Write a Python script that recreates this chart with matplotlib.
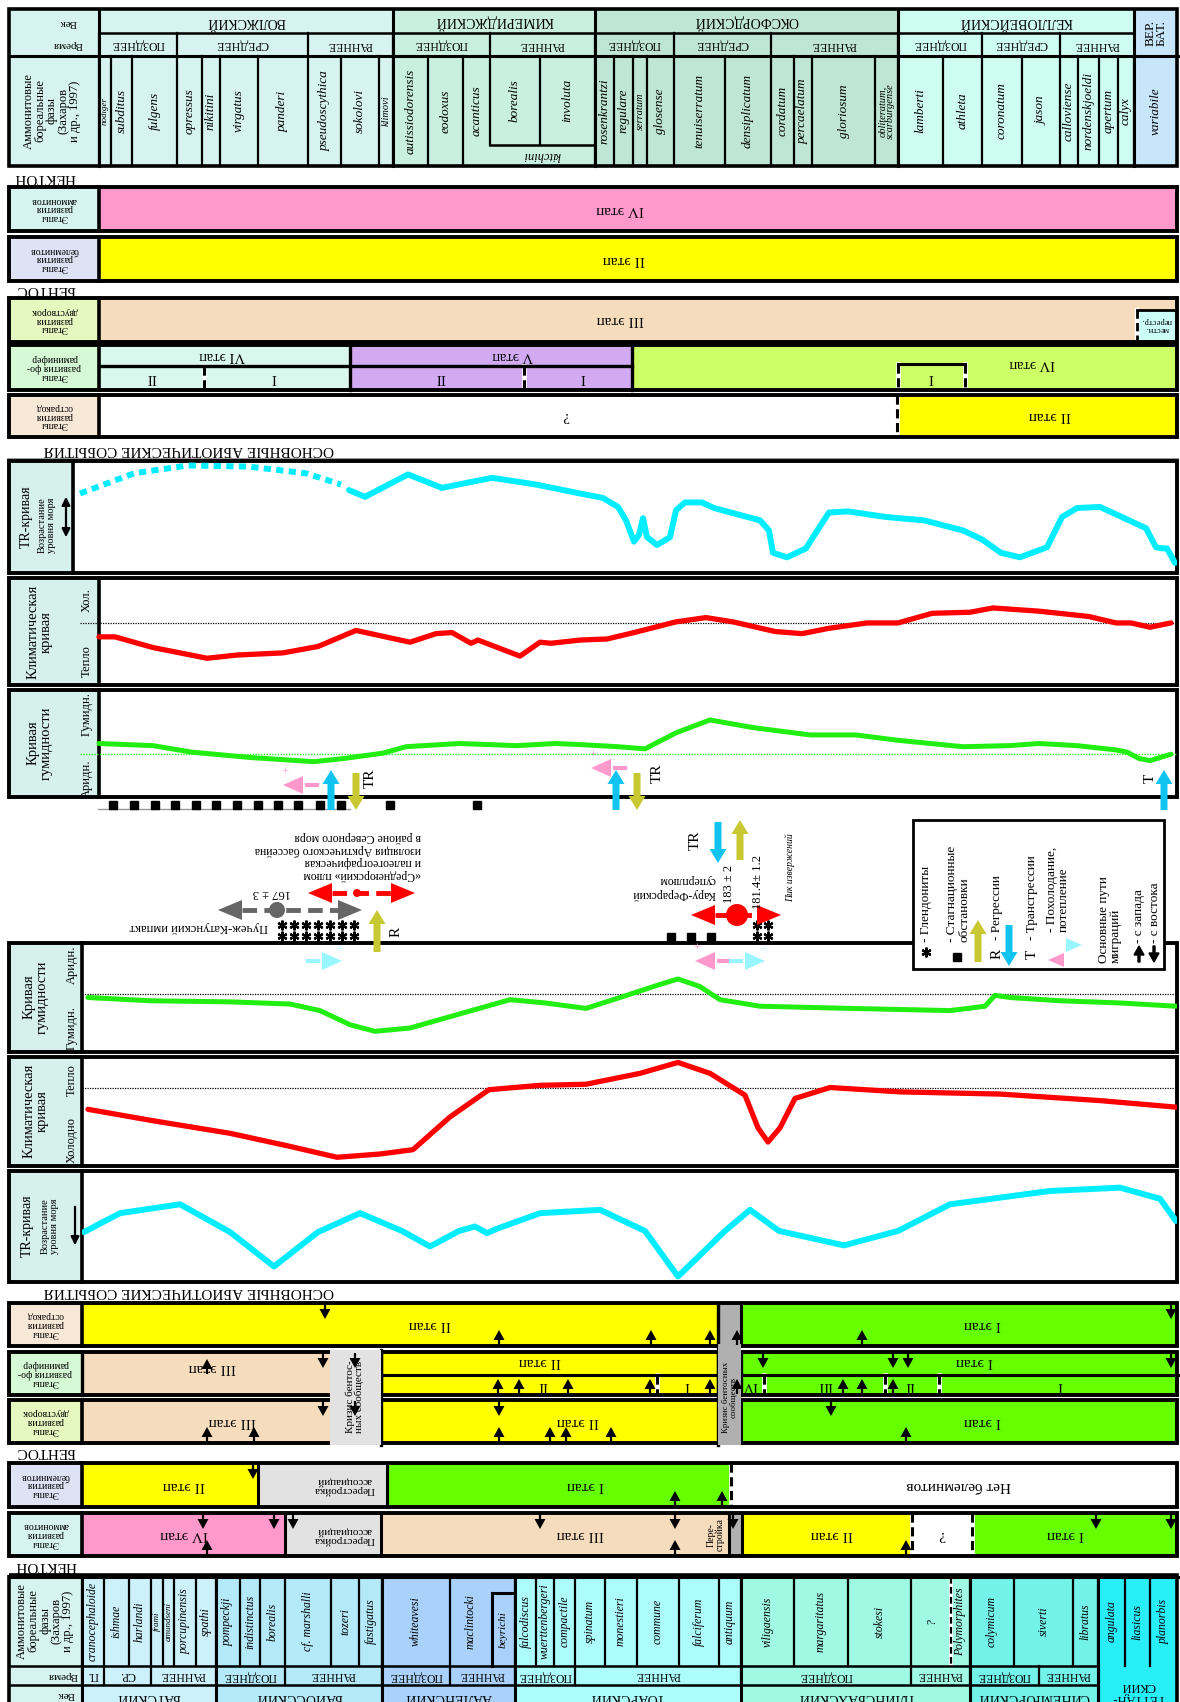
import matplotlib
matplotlib.use('Agg')
import matplotlib.pyplot as plt
from matplotlib.patches import Rectangle, Polygon, Circle

plt.rcParams['font.family'] = ['Liberation Serif', 'DejaVu Serif']

W, H = 1180, 1702
FR = 1177  # right edge of frames

# ---------------- верхняя юра (upper half, drawn upside down) ----------------
up_stages = ['ВОЛЖСКИЙ', 'КИМЕРИДЖСКИЙ', 'ОКСФОРДСКИЙ', 'КЕЛЛОВЕЙСКИЙ']
up_stage_edges = [99, 393, 595, 898, 1134]
up_stage_col = ['#d6f3f0', '#c9efe0', '#bee5d5', '#cffcf0']
up_sub = ['ПОЗДНЕЕ', 'СРЕДНЕЕ', 'РАННЕЕ', 'ПОЗДНЕЕ', 'РАННЕЕ', 'ПОЗДНЕЕ',
          'СРЕДНЕЕ', 'РАННЕЕ', 'ПОЗДНЕЕ', 'СРЕДНЕЕ', 'РАННЕЕ']
up_sub_edges = [99, 177, 308, 393, 490, 595, 674, 771, 898, 982, 1060, 1134]
up_zones = ['nodiger', 'subditus', 'fulgens', 'opressus', 'nikitini', 'virgatus', 'panderi',
            'pseudoscythica', 'sokolovi', 'klimovi', 'autissiodorensis', 'eodoxus', 'acanticus',
            'borealis', 'involuta', 'rosenkrantzi', 'regulare', 'serratum', 'glosense',
            'tenuiserratum', 'densiplicatum', 'cordatum', 'percaelatum', 'gloriosum',
            'obliteratum,\nscarburgense', 'lamberti', 'athleta', 'coronatum', 'jason',
            'calloviense', 'nordenskjoeldi', 'apertum', 'calyx', 'variabile']
up_zone_edges = [99, 111, 132, 177, 202, 220, 258, 308, 341, 379, 393, 428, 463, 490, 540,
                 595, 614, 633, 647, 674, 725, 771, 794, 812, 875, 898, 943, 982, 1022, 1060,
                 1078, 1099, 1118, 1134, 1178]

# ---------------- нижняя и средняя юра (lower half) ----------------
lo_stages = ['БАТСКИЙ', 'БАЙОССКИЙ', 'ААЛЕНСКИЙ', 'ТОАРСКИЙ', 'ПЛИНСБАХСКИЙ', 'СИНЕМЮРСКИЙ', 'ГЕТТАН-\nСКИЙ']
lo_stage_edges = [82, 216, 382, 515, 741, 970, 1098, 1178]
lo_stage_col = ['#cdf1fb', '#b3e9f8', '#a9d1fa', '#adfcfc', '#a0f9e2', '#72f2e8', '#28eef8']
lo_sub = ['П.', 'СР.', 'РАННЕЕ', 'ПОЗДНЕЕ', 'РАННЕЕ', 'ПОЗДНЕЕ', 'РАННЕЕ', 'ПОЗДНЕЕ',
          'РАННЕЕ', 'ПОЗДНЕЕ', 'РАННЕЕ', 'ПОЗДНЕЕ', 'РАННЕЕ']
lo_sub_edges = [82, 104, 151, 216, 285, 382, 450, 515, 575, 741, 911, 970, 1039, 1098]
lo_zones = ['cranocephaloide', 'ishmae', 'harlandi', 'frami', 'amundseni', 'porcupinensis',
            'spathi', 'pompeckji', 'indistinctus', 'borealis', 'cf. marshalli', 'tozeri',
            'fastigatus', 'whiteavesi', 'maclintocki', 'falcodiscus', 'wuerttenbergeri',
            'compactile', 'spinatum', 'monestieri', 'commune', 'falciferum', 'antiquum',
            'viligaensis', 'margaritatus', 'stokesi', '?', 'Polymorphites', 'colymicum',
            'siverti', 'libratus', 'angulata', 'liasicus', 'planorbis']
lo_zone_edges = [82, 104, 129, 151, 163, 174, 196, 216, 240, 260, 285, 331, 359, 382, 450,
                 515, 536, 554, 575, 605, 637, 679, 719, 741, 794, 848, 911, 951, 970, 1014,
                 1073, 1098, 1125, 1150, 1178]

# ---------------- кривые (x on the time scale, level 0..100 inside panel) ----------------
tr_up_dash_x = [80, 134, 188, 249, 306, 341]
tr_up_dash_v = [71, 89, 96, 95, 89, 79]
tr_up_x = [349, 365, 408, 442, 492, 536, 580, 603, 618, 626, 634, 639, 643, 647, 657, 670,
           676, 685, 702, 714, 760, 769, 773, 787, 806, 813, 829, 848, 886, 924, 963, 982,
           1001, 1020, 1047, 1062, 1077, 1100, 1146, 1156, 1162, 1167, 1175]
tr_up_v = [74, 68, 88, 76, 85, 79, 71, 67, 59, 47, 28, 34, 49, 32, 25, 32, 56, 63, 63, 58,
           47, 38, 18, 14, 22, 32, 54, 55, 50, 47, 38, 30, 18, 14, 23, 50, 58, 59, 40, 23,
           22, 22, 9]
cl_up_x = [99, 115, 153, 207, 237, 283, 318, 356, 410, 436, 452, 471, 478, 520, 540, 551,
           580, 607, 634, 676, 706, 733, 775, 802, 829, 867, 898, 932, 970, 993, 1039, 1089,
           1116, 1131, 1150, 1171]
cl_up_v = [45, 45, 35, 25, 28, 30, 36, 51, 40, 48, 49, 39, 42, 27, 40, 39, 42, 43, 49, 59,
           63, 59, 50, 48, 53, 58, 58, 67, 68, 72, 69, 64, 58, 58, 54, 58]
hu_up_x = [99, 153, 191, 249, 314, 344, 383, 406, 459, 517, 555, 580, 618, 645, 676, 710,
           752, 810, 856, 898, 963, 1009, 1039, 1077, 1116, 1127, 1139, 1150, 1171]
hu_up_v = [50, 48, 42, 37, 33, 36, 41, 47, 50, 48, 50, 49, 47, 45, 60, 72, 65, 58, 58, 53,
           47, 48, 50, 48, 44, 42, 36, 34, 40]

hu_lo_x = [88, 150, 230, 290, 320, 350, 375, 410, 460, 510, 545, 586, 620, 660, 678, 700,
           720, 760, 850, 950, 985, 995, 1010, 1060, 1120, 1176]
hu_lo_v = [50, 47, 46, 44, 38, 25, 19, 22, 35, 48, 45, 40, 50, 62, 67, 60, 48, 42, 40, 38,
           42, 52, 50, 47, 45, 42]
cl_lo_x = [88, 150, 230, 290, 337, 380, 413, 450, 489, 540, 586, 640, 678, 710, 745, 758,
           768, 780, 795, 830, 900, 1000, 1100, 1176]
cl_lo_v = [52, 42, 30, 18, 8, 11, 15, 45, 70, 74, 75, 85, 95, 85, 65, 35, 22, 35, 62, 72,
           68, 66, 60, 54]
tr_lo_x = [84, 120, 180, 230, 274, 318, 360, 402, 430, 459, 475, 487, 497, 540, 600, 645,
           678, 725, 750, 779, 844, 898, 950, 1050, 1120, 1160, 1176]
tr_lo_v = [45, 62, 70, 45, 14, 45, 62, 46, 32, 46, 50, 44, 48, 62, 65, 46, 5, 46, 65, 46,
           33, 46, 70, 82, 85, 75, 55]

# события: стагнационные обстановки, гляндониты
stag_up_x = [113, 134, 155, 175, 196, 216, 237, 258, 278, 298, 320, 341, 390, 477]
stag_mid_x = [671, 691, 711]
glend_x = [282, 294, 306, 318, 330, 342, 354]
glend_x2 = [757, 768]

# миграции (x, 'u' from bottom / 'd' from top)
mig_ostr = [(325, 'd'), (499, 'u'), (651, 'u'), (710, 'u'), (737, 'u'), (862, 'u'), (1171, 'd')]
mig_foram = [(323, 'd'), (355, 'd'), (207, 'u'), (763, 'd'), (893, 'd'), (908, 'd'), (1171, 'd')]
mig_foram_lo = [(498, 'u'), (519, 'u'), (568, 'u'), (650, 'u'), (710, 'u'), (737, 'u'),
                (843, 'u'), (862, 'u'), (893, 'u')]
mig_biv = [(323, 'd'), (355, 'd'), (207, 'u'), (254, 'u'), (499, 'd'), (499, 'u'), (550, 'u'),
           (566, 'u'), (611, 'u'), (831, 'd'), (906, 'u')]
mig_bel = [(253, 'd'), (675, 'u'), (722, 'u')]
mig_amm = [(203, 'd'), (274, 'd'), (293, 'd'), (540, 'd'), (675, 'd'), (733, 'd'), (1096, 'd'),
           (1171, 'd'), (207, 'u'), (675, 'u'), (906, 'u')]

fig = plt.figure(figsize=(W / 100, H / 100), dpi=100)
ax = fig.add_axes([0, 0, 1, 1])
ax.set_xlim(0, W)
ax.set_ylim(H, 0)
ax.axis('off')


def cell(x0, x1, y0, y1, fc, lw=0, ec='black', z=1):
    ax.add_patch(Rectangle((x0, y0), x1 - x0, y1 - y0, fc=fc, ec=ec, lw=lw, zorder=z))


def frame(x0, x1, y0, y1, lw=2.4):
    ax.add_patch(Rectangle((x0, y0), x1 - x0, y1 - y0, fill=False, ec='black', lw=lw, zorder=5))


def vline(x, y0, y1, lw=1.8, dashed=False, a=None):
    a = a or ax
    if dashed:
        a.plot([x, x], [y0, y1], color='white', lw=lw + 1.2, zorder=4.4)
        a.plot([x, x], [y0, y1], color='black', lw=lw, dashes=(3, 1.5), zorder=4.5)
    else:
        a.plot([x, x], [y0, y1], color='black', lw=lw, zorder=4.5)


def hline(y, x0, x1, lw=1.8, a=None):
    (a or ax).plot([x0, x1], [y, y], color='black', lw=lw, zorder=4.5)


def txt(x, y, s, size=9, rot=180, a=None, **kw):
    kw.setdefault('ha', 'center')
    kw.setdefault('va', 'center')
    kw.setdefault('zorder', 12)
    return (a or ax).text(x, y, s, fontsize=size, rotation=rot, **kw)


def zone_size(w):
    return 9.5 if w >= 16 else (7.5 if w >= 13 else 6.5)


# ================= верхний заголовок =================
hy = [9, 33, 56, 166]
cell(9, 99, hy[0], hy[3], '#d6f3ef')
txt(68, 22, 'Век', 8)
txt(68, 44, 'Время', 8)
txt(52, 111, 'Аммонитовые\nбореальные\nфазы\n(Захаров\nи др., 1997)', 9, rot=90, linespacing=0.95)
for i, s in enumerate(up_stages):
    x0, x1 = up_stage_edges[i], up_stage_edges[i + 1]
    cell(x0, x1, hy[0], hy[2], up_stage_col[i])
    txt((x0 + x1) / 2, 22, s, 10)
    vline(x0, hy[0], hy[3], lw=2.2)
for i, s in enumerate(up_sub):
    x0, x1 = up_sub_edges[i], up_sub_edges[i + 1]
    txt((x0 + x1) / 2, 44.5, s, 8.5)
    vline(x0, hy[1], hy[2], lw=1.6)
cell(1134, 1178, hy[0], hy[2], '#c8e6fa')
vline(1134, hy[0], hy[3], lw=2.2)
txt(1156, 33, 'ВЕР.\nБАТ.', 9.5, rot=90, linespacing=0.95)
hline(hy[1], 99, 1134)
hline(hy[2], 9, 1178, lw=2.2)
for i, z in enumerate(up_zones):
    x0, x1 = up_zone_edges[i], up_zone_edges[i + 1]
    c = (x0 + x1) / 2
    col = '#c8e6fa'
    for k in range(len(up_stages)):
        if up_stage_edges[k] <= c < up_stage_edges[k + 1]:
            col = up_stage_col[k]
    y1 = 145 if z in ('borealis', 'involuta') else hy[3]
    cell(x0, x1, hy[2], hy[3], col)
    vline(x0, hy[2], y1, lw=1.6)
    sz = 7.5 if '\n' in z else zone_size(x1 - x0)
    txt(c, (hy[2] + y1) / 2, z, sz, rot=90, style='italic', linespacing=0.9)
hline(145, 490, 595)
txt(542, 155.5, 'kitchini', 9, style='italic')
frame(9, FR, hy[0], hy[3], lw=2.6)
txt(45, 178, 'НЕКТОН', 11)


# ================= строки этапов =================
def band_row(y0, y1, lab_x1, lab_fc, lab_text, segs, dashed=(), lab_rot=180):
    cell(9, lab_x1, y0, y1, lab_fc)
    txt((9 + lab_x1) / 2, (y0 + y1) / 2, lab_text, 7, rot=lab_rot, linespacing=0.95)
    for i, (x0, x1, fc, lab, lx) in enumerate(segs):
        cell(x0, x1, y0, y1, fc)
        if lab:
            txt(lx if lx else (x0 + x1) / 2, (y0 + y1) / 2, lab, 11)
        if i > 0:
            vline(x0, y0, y1, lw=2.2, dashed=x0 in dashed)
    vline(lab_x1, y0, y1, lw=2.6)
    frame(9, FR, y0, y1, lw=2.8)


band_row(187, 231, 99, '#d6f3ef', 'Этапы\nразвития\nаммонитов',
         [(99, 1178, '#ff99cc', 'IV этап', 620)])
band_row(237, 281, 99, '#dde3f5', 'Этапы\nразвития\nбелемнитов',
         [(99, 1178, '#ffff00', 'II этап', 624)])
txt(46, 290, 'БЕНТОС', 11)
band_row(298, 342, 99, '#e5f8c0', 'Этапы\nразвития\nдвустворок',
         [(99, 1178, '#f5dcbc', 'III этап', 620)])
cell(1137, 1176, 310, 340, '#ccfff8')
vline(1137, 310, 340, lw=2, dashed=True)
hline(310, 1137, 1176, lw=2)
txt(1157, 325, 'местн.\nперестр.', 6, linespacing=0.9)

# foraminifera (upper)
fy0, fym, fy1 = 345, 366, 390
cell(9, 99, fy0, fy1, '#d5f8d5')
txt(54, (fy0 + fy1) / 2, 'Этапы\nразвития фо-\nраминифер', 7, linespacing=0.95)
cell(99, 350, fy0, fy1, '#d9f7ec')
cell(350, 632, fy0, fy1, '#d2aaf2')
cell(632, 1178, fy0, fy1, '#ccff66')
hline(fym, 99, 632, lw=2.4)
for x in (350, 632):
    vline(x, fy0, fy1, lw=2.4)
vline(204, fym, fy1, lw=2.2, dashed=True)
vline(524, fym, fy1, lw=2.2, dashed=True)
txt(222, 355.5, 'VI этап', 10.5)
txt(513, 355.5, 'V этап', 10.5)
txt(1032, 363, 'IV этап', 10.5)
for x, s in [(151, 'II'), (274, 'I'), (440, 'II'), (583, 'I'), (931, 'I')]:
    txt(x, 378, s, 11)
hline(364, 898, 965, lw=2.2)
vline(898, 364, fy1, lw=2.2, dashed=True)
vline(965, 364, fy1, lw=2.2, dashed=True)
vline(99, fy0, fy1, lw=2.6)
frame(9, FR, fy0, fy1, lw=2.8)

band_row(395, 437, 99, '#f8e8d8', 'Этапы\nразвития\nостракод',
         [(99, 897, 'white', '?', 566), (897, 1178, '#ffff00', 'II этап', 1050)], dashed=(897,))
txt(189, 450, 'ОСНОВНЫЕ АБИОТИЧЕСКИЕ СОБЫТИЯ', 11)
ax.plot([8, 1178], [459, 459], color='#888888', lw=1.2)


# ================= панели кривых =================
def curve_ax(x0, x1, y0, y1):
    a = fig.add_axes([x0 / W, 1 - y1 / H, (x1 - x0) / W, (y1 - y0) / H])
    a.set_xlim(x0, x1)
    a.set_ylim(0, 100)
    a.axis('off')
    a.patch.set_alpha(0)
    return a


def panel(y0, y1, lab_x1, lab_fc='#d6f0ec'):
    cell(9, lab_x1, y0, y1, lab_fc)
    cell(lab_x1, FR, y0, y1, 'white')
    vline(lab_x1, y0, y1, lw=2.6)
    frame(9, FR, y0, y1, lw=2.8)


# upper TR
panel(461, 573, 73)
txt(26, 517, 'TR-кривая', 10, rot=90)
txt(47, 525, 'Возрастание\nуровня моря', 7.5, rot=90, linespacing=0.95)
ax.annotate('', xy=(66, 494), xytext=(66, 540),
            arrowprops=dict(arrowstyle='<|-|>', color='black', lw=1.6, mutation_scale=12), zorder=6)
a = curve_ax(73, FR, 461, 573)
a.plot(tr_up_dash_x, tr_up_dash_v, color='#00eeff', lw=4.3, dashes=(1.2, 0.9))
a.plot(tr_up_x, tr_up_v, color='#00eeff', lw=4.3, solid_joinstyle='round', solid_capstyle='round')

# upper climate
panel(578, 685, 99)
txt(40, 632, 'Климатическая\nкривая', 10.5, rot=90, linespacing=1.0)
txt(87, 600, 'Хол.', 9, rot=90)
txt(87, 661, 'Тепло', 9, rot=90)
a = curve_ax(78, FR, 578, 685)
a.plot([80, FR], [58, 58], color='black', lw=0.9, ls=(0, (1, 1)))
a.plot(cl_up_x, cl_up_v, color='#ff0000', lw=3.8, solid_joinstyle='round', solid_capstyle='round')

# upper humidity
panel(690, 797, 99)
txt(40, 743, 'Кривая\nгумидности', 10.5, rot=90, linespacing=1.0)
txt(87, 714, 'Гумидн.', 9, rot=90)
txt(87, 779, 'Аридн.', 9, rot=90)
a = curve_ax(78, FR, 690, 797)
a.plot([80, FR], [40, 40], color='#22ee22', lw=1.0, ls=(0, (1, 1)))
a.plot(hu_up_x, hu_up_v, color='#22ee11', lw=3.6, solid_joinstyle='round', solid_capstyle='round')

# lower humidity / climate / TR
panel(943, 1052, 82)
txt(36, 997, 'Кривая\nгумидности', 10.5, rot=90, linespacing=1.0)
txt(72, 965, 'Аридн.', 9, rot=90)
txt(72, 1028, 'Гумидн.', 9, rot=90)
a = curve_ax(82, FR, 943, 1052)
a.plot([82, FR], [53, 53], color='black', lw=0.9, ls=(0, (1, 1)))
a.plot(hu_lo_x, hu_lo_v, color='#22ee11', lw=3.6, solid_joinstyle='round', solid_capstyle='round')

panel(1057, 1166, 82)
txt(36, 1111, 'Климатическая\nкривая', 10.5, rot=90, linespacing=1.0)
txt(72, 1080, 'Тепло', 9, rot=90)
txt(72, 1140, 'Холодно', 9, rot=90)
a = curve_ax(82, FR, 1057, 1166)
a.plot([82, FR], [72, 72], color='black', lw=0.9, ls=(0, (1, 1)))
a.plot(cl_lo_x, cl_lo_v, color='#ff0000', lw=3.8, solid_joinstyle='round', solid_capstyle='round')

panel(1171, 1282, 82)
txt(27, 1226, 'TR-кривая', 10, rot=90)
txt(50, 1226, 'Возрастание\nуровня моря', 7.5, rot=90, linespacing=0.95)
ax.annotate('', xy=(75, 1248), xytext=(75, 1204),
            arrowprops=dict(arrowstyle='-|>', color='black', lw=1.6, mutation_scale=12), zorder=6)
a = curve_ax(82, FR, 1171, 1282)
a.plot(tr_lo_x, tr_lo_v, color='#00eeff', lw=4.3, solid_joinstyle='round', solid_capstyle='round')

txt(189, 1291, 'ОСНОВНЫЕ АБИОТИЧЕСКИЕ СОБЫТИЯ', 11)

# ================= нижние строки этапов =================
band_row(1303, 1346, 82, '#f8e8d8', 'Этапы\nразвития\nостракод',
         [(82, 718, '#ffff00', 'II этап', 430), (718, 741, '#b0b0b0', None, None),
          (741, 1178, '#66ff00', 'I этап', 982)])

# foraminifera (lower)
fy0, fym, fy1 = 1352, 1375, 1395
cell(9, 82, fy0, fy1, '#d5f8d5')
txt(45, (fy0 + fy1) / 2, 'Этапы\nразвития фо-\nраминифер', 7, linespacing=0.95)
cell(82, 330, fy0, fy1, '#f5dcbc')
cell(381, 718, fy0, fy1, '#ffff00')
cell(741, 1178, fy0, fy1, '#66ff00')
hline(fym, 381, 718, lw=2.2)
hline(fym, 741, 1178, lw=2.2)
txt(212, 1368, 'III этап', 11)
txt(540, 1362, 'II этап', 11)
txt(974, 1362, 'I этап', 11)
for x in (657, 764, 885, 939):
    vline(x, fym, fy1, lw=2.2, dashed=True)
for x, s in [(543, 'II'), (687, 'I'), (750, 'IV'), (825, 'III'), (910, 'II'), (1060, 'I')]:
    txt(x, 1386, s, 10.5)
for x in (82, 381, 718, 741):
    vline(x, fy0, fy1, lw=2.4)
frame(9, FR, fy0, fy1, lw=2.8)

band_row(1400, 1443, 82, '#e5f8c0', 'Этапы\nразвития\nдвустворок',
         [(82, 330, '#f5dcbc', 'III этап', 232), (381, 718, '#ffff00', 'II этап', 578),
          (718, 741, '#b0b0b0', None, None), (741, 1178, '#66ff00', 'I этап', 982)])

# crisis columns (span forams + bivalves, gray strip from ostracods)
cell(330, 381, 1350, 1445, '#e2e2e2', z=6)
vline(381, 1350, 1445, lw=2.4)
txt(355, 1397, 'Кризис бентос-\nных сообществ', 8, rot=90, linespacing=0.95)
cell(718, 741, 1344, 1445, '#b0b0b0', z=6)
vline(718, 1303, 1445, lw=2.4)
txt(730, 1397, 'Кризис бентосных\nсообществ', 6.5, rot=90, linespacing=0.85)

txt(46, 1451, 'БЕНТОС', 11)
band_row(1463, 1507, 82, '#dde3f5', 'Этапы\nразвития\nбелемнитов',
         [(82, 258, '#ffff00', 'II этап', 184), (258, 387, '#e2e2e2', None, None),
          (387, 731, '#66ff00', 'I этап', 585), (731, 1178, 'white', 'Нет белемнитов', 959)],
         dashed=(731,))
txt(344, 1485, 'Перестройка\nассоциаций', 8, linespacing=0.95)

band_row(1513, 1556, 82, '#d6f3ef', 'Этапы\nразвития\nаммонитов',
         [(82, 285, '#ff99cc', 'IV этап', 184), (285, 381, '#e2e2e2', None, None),
          (381, 729, '#f5dcbc', 'III этап', 580), (729, 742, '#b0b0b0', None, None),
          (742, 912, '#ffff00', 'II этап', 832), (912, 972, 'white', '?', 942),
          (972, 1178, '#66ff00', 'I этап', 1065)], dashed=(912, 972))
txt(344, 1535, 'Перестройка\nассоциаций', 8, linespacing=0.95)
txt(716, 1535, 'Пере-\nстройка', 7, rot=90, linespacing=0.9)
txt(46, 1565, 'НЕКТОН', 11)

# ================= нижний заголовок =================
ly = [1577, 1666, 1685, 1720]
cell(9, 82, 1575, ly[3], '#d6f3ef')
txt(45, 1621, 'Аммонитовые\nбореальные\nфазы\n(Захаров\nи др., 1997)', 9, rot=90, linespacing=0.95)
txt(63, 1675.5, 'Время', 8)
txt(66, 1694, 'Век', 8)
for i, s in enumerate(lo_stages):
    x0, x1 = lo_stage_edges[i], lo_stage_edges[i + 1]
    cell(x0, x1, ly[0], ly[3], lo_stage_col[i])
    vline(x0, 1575, ly[3], lw=2.2)
    if '\n' in s:
        txt((x0 + x1) / 2, 1692, s, 9, linespacing=0.9)
    else:
        txt((x0 + x1) / 2, 1697, s, 10)
for i, s in enumerate(lo_sub):
    x0, x1 = lo_sub_edges[i], lo_sub_edges[i + 1]
    txt((x0 + x1) / 2, 1675.5, s, 8.5)
    vline(x0, ly[1], ly[2], lw=1.6)
for i, z in enumerate(lo_zones):
    x0, x1 = lo_zone_edges[i], lo_zone_edges[i + 1]
    c = (x0 + x1) / 2
    if z == 'maclintocki':
        c = 471
    vline(x0, ly[0], ly[1], lw=1.6, dashed=(x0 == 951))
    txt(c, (ly[0] + ly[1]) / 2, z, min(8.5, zone_size(x1 - x0)), rot=90, style='italic')
# beyrichi inset
hline(1593, 492, 515, lw=2.2)
vline(492, 1593, ly[1], lw=2.2)
txt(503, 1630, 'beyrichi', 8, rot=90, style='italic')
hline(ly[1], 9, 1098)
hline(ly[2], 9, 1098)
hline(ly[0], 9, 1178, lw=2.2)
vline(1098, ly[1], ly[3], lw=2.2)
frame(9, FR, 1575, 1740, lw=2.6)

# ================= события (overlay) =================
ov = fig.add_axes([0, 0, 1, 1])
ov.set_xlim(0, W)
ov.set_ylim(H, 0)
ov.axis('off')
ov.patch.set_alpha(0)

CYAN, OLIVE, PINK, RED, GREY = '#11c4f0', '#c8c832', '#ff99cc', '#ff0000', '#666666'


def varrow(x, ya, yb, color, w=7, hw=17, hl=14):
    ov.arrow(x, ya, 0, yb - ya, width=w, head_width=hw, head_length=hl,
             length_includes_head=True, fc=color, ec=color, lw=0, zorder=9)


def tri(xt, y, d, color, L=20, hh=9):
    # triangle with tip at xt; d=+1 tail to the right (points left)
    ov.add_patch(Polygon([(xt, y), (xt + d * L, y - hh), (xt + d * L, y + hh)], closed=True,
                         fc=color, ec='none', zorder=9))


def cold_warm(xt, y, d, color, sign):
    tri(xt, y, d, color)
    ov.plot([xt + d * 24, xt + d * 34], [y, y], color=color, lw=3, zorder=9)
    txt(xt + d * 2, y - 12, sign, 9, rot=0, a=ov, color=color)


def double(x0, x1, xd, y, color, r, dashed=True):
    tri(x0, y, 1, color, L=24, hh=10)
    tri(x1, y, -1, color, L=24, hh=10)
    ov.plot([x0 + 24, x1 - 24], [y, y], color=color, lw=3.5,
            dashes=(3, 1.5) if dashed else (None, None), zorder=9)
    ov.add_patch(Circle((xd, y), r, fc=color, ec='none', zorder=10))


def migr(x, y0, y1, kind):
    if kind == 'd':
        ov.arrow(x, y0 + 1, 0, 15, width=2.2, head_width=11, head_length=10,
                 length_includes_head=True, fc='black', ec='black', lw=0, zorder=9)
    else:
        ov.arrow(x, y1 - 1, 0, -15, width=2.2, head_width=11, head_length=10,
                 length_includes_head=True, fc='black', ec='black', lw=0, zorder=9)


# upper events
cold_warm(283, 785, 1, PINK, '+')
varrow(331, 810, 770, CYAN)
varrow(356, 773, 810, OLIVE)
txt(370, 778, 'TR', 11, rot=90, a=ov)
ov.plot([98, 350], [809, 809], color='#999999', lw=1)
ov.plot(stag_up_x, [805] * len(stag_up_x), 's', color='black', ms=6)
cold_warm(591, 768, 1, PINK, '+')
varrow(616, 810, 770, CYAN)
varrow(637, 773, 810, OLIVE)
txt(657, 773, 'TR', 11, rot=90, a=ov)
varrow(1164, 810, 770, CYAN)
txt(1150, 778, 'T', 11, rot=90, a=ov)

# middle: plume & impact
txt(421, 856, '«Среднеюрский» плюм\nи палеогеографическая\nизоляция Арктического бассейна\nв районе Северного моря',
    8.5, a=ov, ha='right', multialignment='left', linespacing=1.05)
double(308, 415, 357, 893, RED, 4)
txt(272, 893, '167 ± 3', 9, a=ov)
double(218, 362, 277, 910, GREY, 8)
txt(199, 927, 'Пучеж-Катунский импакт', 9, a=ov)
for yy in (925, 936):
    ov.plot(glend_x, [yy] * len(glend_x), marker=(6, 2, 0), ls='none', color='black', ms=7, mew=1.6)
    ov.plot(glend_x2, [yy] * len(glend_x2), marker=(6, 2, 0), ls='none', color='black', ms=7, mew=1.6)
varrow(377, 952, 910, OLIVE)
txt(396, 932, 'R', 11, rot=90, a=ov)

txt(695, 840, 'TR', 11, rot=90, a=ov)
varrow(718, 822, 863, CYAN)
varrow(740, 860, 820, OLIVE)
txt(729, 884, '183 ± 2', 9, rot=90, a=ov)
txt(758, 882, '181.4± 1.2', 9, rot=90, a=ov)
txt(790, 868, 'Пик извержений', 7, rot=90, a=ov, style='italic')
txt(716, 887, 'Кару-Ферарский\nсуперплюм', 8.5, a=ov, ha='right', multialignment='left')
double(691, 781, 737, 915, RED, 11, dashed=True)
ov.plot(stag_mid_x, [937] * len(stag_mid_x), 's', color='black', ms=6)

# lower humidity panel cooling/warming marks
cold_warm(342, 961, -1, '#99f5ff', '-')
cold_warm(695, 961, 1, PINK, '+')
cold_warm(765, 961, -1, '#99f5ff', '-')

# legend
ov.add_patch(Rectangle((913, 820), 251, 149, fc='white', ec='black', lw=2, zorder=8))
ov.plot([926], [952], marker=(6, 2, 0), color='black', ms=7, mew=1.6, zorder=10)
txt(926, 942, '- Глендониты', 9.5, rot=90, a=ov, ha='left', va='center', rotation_mode='anchor')
ov.plot([957], [957], 's', color='black', ms=6, zorder=10)
txt(958, 942, '- Стагнационные\nобстановки', 9.5, rot=90, a=ov, ha='left', va='center',
    rotation_mode='anchor', linespacing=1.0)
varrow(978, 962, 920, OLIVE)
txt(997, 954, 'R', 11, rot=90, a=ov)
varrow(1009, 925, 966, CYAN)
txt(997, 940, '- Регрессии', 9.5, rot=90, a=ov, ha='left', va='center', rotation_mode='anchor')
txt(1032, 954, 'T', 11, rot=90, a=ov)
txt(1032, 940, '- Трансгрессии', 9.5, rot=90, a=ov, ha='left', va='center', rotation_mode='anchor')
tri(1048, 960, 1, PINK, L=16, hh=7)
tri(1082, 945, -1, '#99f5ff', L=16, hh=7)
txt(1058, 932, '- Похолодание,\nпотепление', 9.5, rot=90, a=ov, ha='left', va='center',
    rotation_mode='anchor', linespacing=1.0)
txt(1110, 963, 'Основные пути\nмиграций', 9.5, rot=90, a=ov, ha='left', va='center',
    rotation_mode='anchor', linespacing=1.0)
ov.arrow(1139, 962, 0, -16, width=2, head_width=10, head_length=9, length_includes_head=True,
         fc='black', ec='black', zorder=10)
ov.arrow(1154, 946, 0, 16, width=2, head_width=10, head_length=9, length_includes_head=True,
         fc='black', ec='black', zorder=10)
txt(1139, 943, '- с запада', 9.5, rot=90, a=ov, ha='left', va='center', rotation_mode='anchor')
txt(1155, 943, '- с востока', 9.5, rot=90, a=ov, ha='left', va='center', rotation_mode='anchor')

# migration arrows in lower rows
for x, k in mig_ostr:
    migr(x, 1303, 1346, k)
for x, k in mig_foram:
    migr(x, 1352, 1375, k)
for x, k in mig_foram_lo:
    migr(x, 1375, 1395, k)
for x, k in mig_biv:
    migr(x, 1400, 1443, k)
for x, k in mig_bel:
    migr(x, 1463, 1507, k)
for x, k in mig_amm:
    migr(x, 1513, 1556, k)

fig.savefig('out.png', dpi=100)
